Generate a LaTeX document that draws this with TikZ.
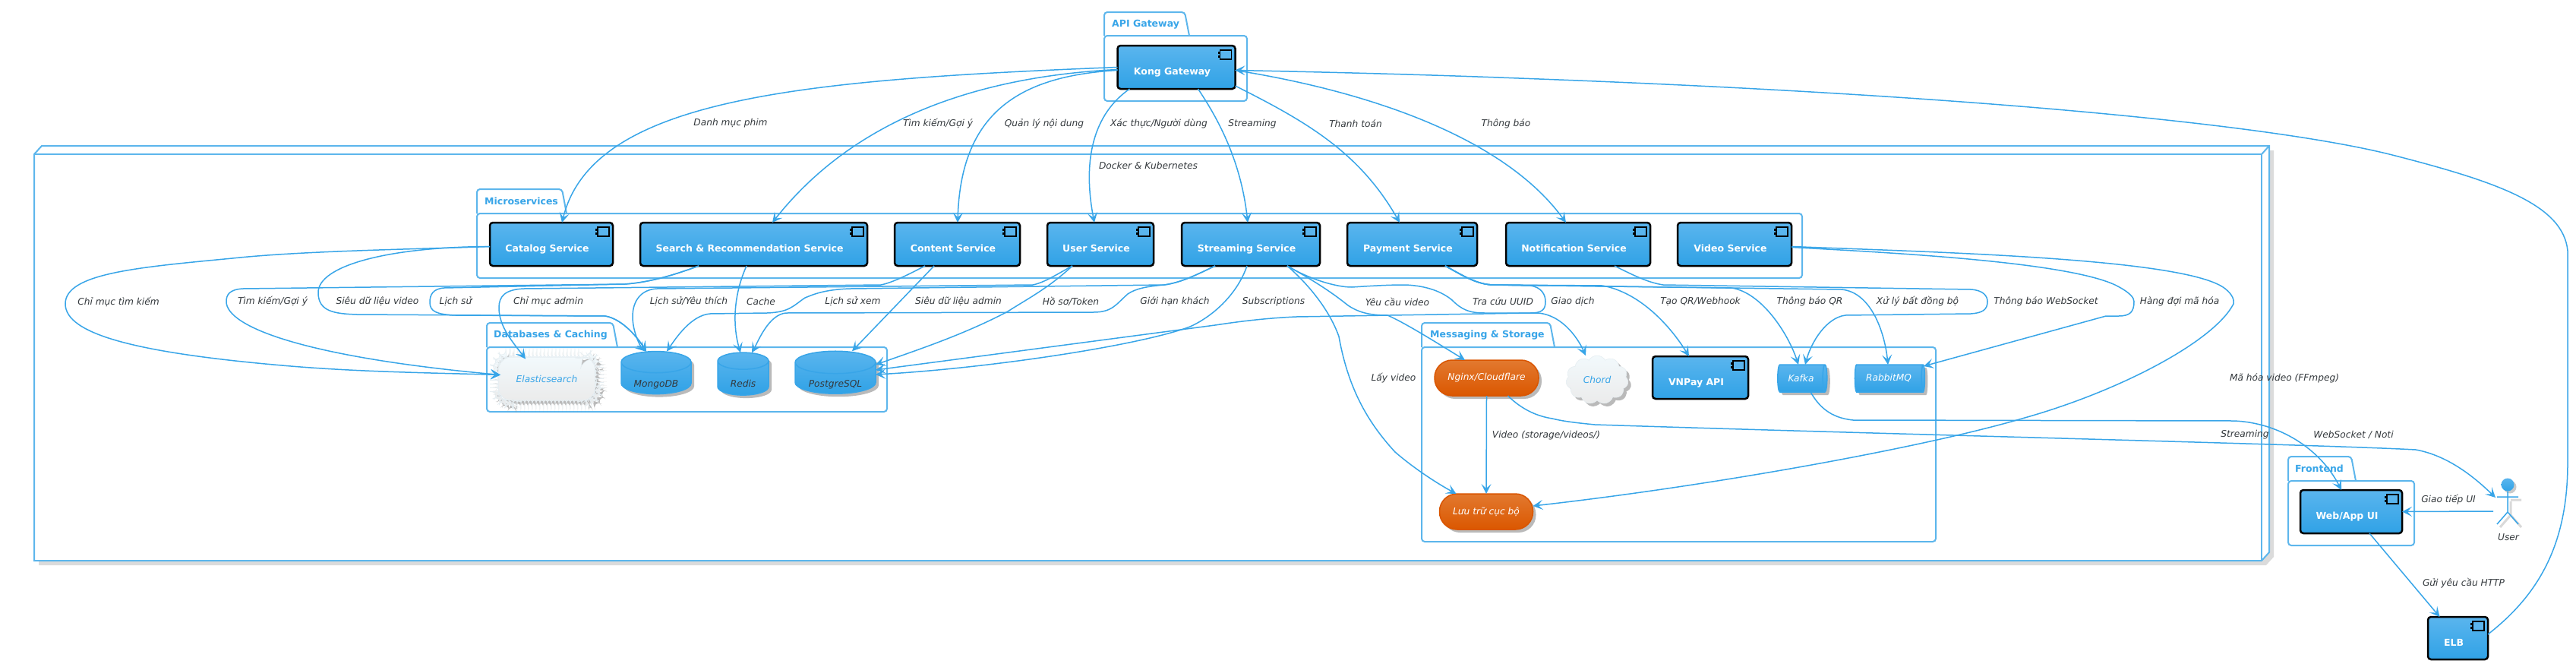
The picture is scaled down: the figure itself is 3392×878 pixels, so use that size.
\documentclass[tikz,border=0pt]{standalone}
\usepackage{fontspec}
\setmainfont{DejaVu Sans}
\usetikzlibrary{arrows.meta,shadows,shapes.geometric,shapes.symbols,decorations.pathmorphing}

\definecolor{flowblue}{HTML}{38A5E8}
\definecolor{pkgblue}{HTML}{5DB6EC}
\definecolor{labelgray}{HTML}{34393D}
\definecolor{orangeedge}{HTML}{D95500}
\definecolor{boxtop}{HTML}{5AB5EE}
\definecolor{boxbot}{HTML}{30A2E6}
\definecolor{orangetop}{HTML}{E2792F}
\definecolor{orangebot}{HTML}{DB5700}
\definecolor{cloudtop}{HTML}{F2F9FC}
\definecolor{cloudbot}{HTML}{EBEBEB}
\definecolor{cloudedge}{HTML}{E6EEF2}

\tikzset{
    >={Stealth[length=13pt,width=13pt,inset=6pt]},
    flow/.style={draw=flowblue,line width=1.5,->},
    pkgline/.style={draw=pkgblue,line width=2,rounded corners=4},
    pkgtitle/.style={font=\bfseries\fontsize{12.5}{15}\selectfont,text=flowblue,anchor=west,inner sep=0},
    edgelabel/.style={font=\itshape\fontsize{12.2}{15}\selectfont,text=labelgray,inner sep=0},
    softshadow/.style={drop shadow={shadow xshift=4pt,shadow yshift=-4pt,fill=black!45,opacity=.6}},
    svc/.style={draw=black,line width=2.5,rounded corners=4,top color=boxtop,bottom color=boxbot,outer sep=0,inner sep=0,
        text=white,font=\bfseries\fontsize{12.5}{15}\selectfont},
    dbcyl/.style={cylinder,shape border rotate=90,draw=flowblue,line width=1.5,outer sep=0,inner sep=0,
        top color=boxtop,bottom color=boxbot,softshadow,text=labelgray,font=\itshape\fontsize{12.2}{15}\selectfont},
    mqcyl/.style={cylinder,draw=flowblue,line width=1.5,outer sep=0,inner sep=0,
        top color=boxtop,bottom color=boxbot,softshadow,text=white,font=\itshape\fontsize{12.2}{15}\selectfont},
    capsule/.style={draw=orangeedge,line width=1.5,rounded corners=23,outer sep=0,inner sep=0,
        top color=orangetop,bottom color=orangebot,softshadow,text=white,font=\itshape\fontsize{12.2}{15}\selectfont},
    puffy/.style={draw=cloudedge,line width=.6,outer sep=0,inner sep=0,
        top color=cloudtop,bottom color=cloudbot,softshadow,text=flowblue,font=\itshape\fontsize{12.2}{15}\selectfont},
    actorline/.style={draw=flowblue,line width=1.5},
    actorshade/.style={draw=black!15,line width=3}
}

\newcommand{\svctext}[1]{\smash{\raisebox{-10pt}{#1}}\hspace*{11pt}}
\newcommand{\dbtext}[1]{\smash{\raisebox{-11pt}{#1}}}
\newcommand{\compicon}[1]{
    \draw[black,line width=1.5,fill=boxtop] ([xshift=-20,yshift=-6]#1.north east) rectangle ([xshift=-5,yshift=-18]#1.north east);
    \fill[black] ([xshift=-23,yshift=-8]#1.north east) rectangle ([xshift=-20,yshift=-11]#1.north east);
    \fill[black] ([xshift=-23,yshift=-13]#1.north east) rectangle ([xshift=-20,yshift=-16]#1.north east);
}
\newcommand{\pkgbox}[7]{
    \draw[pkgline] (#1,#5) -- (#1,#2) -- (#3,#2) -- (#4,#5);
    \draw[pkgline] (#1,#5) -- (#6,#5) -- (#6,#7) -- (#1,#7) -- cycle;
}

\begin{document}
\begin{tikzpicture}[x=1pt,y=-1pt]
    \useasboundingbox (0,0) rectangle (3392,878);

    \fill[black!14] (61,198) -- (2994,198) -- (2994,733) -- (2984,744) -- (51,744) -- cycle;
    \draw[pkgline,rounded corners=0,fill=white] (45,203) -- (55,192) -- (2988,192) -- (2988,727) -- (2978,738) -- (45,738) -- cycle;
    \draw[pkgline,rounded corners=0] (45,203) -- (2978,203) -- (2978,738);
    \draw[pkgline,rounded corners=0] (2978,203) -- (2988,192);

    \pkgbox{1454}{16}{1560}{1566}{47}{1642}{133}
    \node[pkgtitle] (titleapi) at (1464,32) {API Gateway};
    \pkgbox{628}{249}{740}{746}{281}{2373}{366}
    \node[pkgtitle] (titlemicro) at (638,265) {Microservices};
    \pkgbox{641}{425}{807}{813}{457}{1168}{542}
    \node[pkgtitle] (titledb) at (650,441) {Databases \& Caching};
    \pkgbox{1872}{425}{2041}{2047}{457}{2549}{713}
    \node[pkgtitle] (titlemsg) at (1883,441) {Messaging \& Storage};
    \pkgbox{3013}{601}{3096}{3102}{633}{3179}{718}
    \node[pkgtitle] (titlefront) at (3022,617) {Frontend};

    \node[svc,minimum width=155,minimum height=57] (kong) at (1549,88.5) {\svctext{Kong Gateway}};
    \node[svc,minimum width=162,minimum height=57] (catalog) at (726,321.5) {\svctext{Catalog Service}};
    \node[svc,minimum width=299,minimum height=57] (search) at (992.5,321.5) {\svctext{Search \& Recommendation Service}};
    \node[svc,minimum width=165,minimum height=57] (content) at (1260.5,321.5) {\svctext{Content Service}};
    \node[svc,minimum width=140,minimum height=57] (usersvc) at (1449,321.5) {\svctext{User Service}};
    \node[svc,minimum width=182,minimum height=57] (stream) at (1647,321.5) {\svctext{Streaming Service}};
    \node[svc,minimum width=171,minimum height=57] (payment) at (1859.5,321.5) {\svctext{Payment Service}};
    \node[svc,minimum width=190,minimum height=57] (notif) at (2078,321.5) {\svctext{Notification Service}};
    \node[svc,minimum width=150,minimum height=57] (videosvc) at (2284,321.5) {\svctext{Video Service}};
    \node[svc,minimum width=126,minimum height=56] (vnpay) at (2239,497) {\svctext{VNPay API}};
    \node[svc,minimum width=134,minimum height=57] (webapp) at (3096,673.5) {\svctext{Web/App UI}};
    \node[svc,minimum width=79,minimum height=56] (elb) at (3236.5,840) {\svctext{ELB}};

    \foreach \n in {kong,catalog,search,content,usersvc,stream,payment,notif,videosvc,vnpay,webapp,elb} {
        \compicon{\n}
    }

    \node[puffy,rectangle,rounded corners=14,decorate,decoration={bumps,mirror,segment length=10pt,amplitude=2.2pt},minimum width=122,minimum height=52] (elastic) at (720,498.5) {Elasticsearch};
    \node[dbcyl,aspect=.48,minimum width=92,minimum height=56] (mongo) at (864,498) {\dbtext{MongoDB}};
    \node[dbcyl,aspect=.66,minimum width=67,minimum height=56] (redis) at (978.5,498) {\dbtext{Redis}};
    \node[dbcyl,aspect=.42,minimum width=106,minimum height=56] (postgres) at (1100,498) {\dbtext{PostgreSQL}};

    \node[capsule,minimum width=137,minimum height=47] (nginx) at (1957.5,497.5) {Nginx/Cloudflare};
    \node[capsule,minimum width=123,minimum height=47] (localstore) at (1957,673.5) {Lưu trữ cục bộ};
    \node[puffy,cloud,cloud puffs=11,cloud puff arc=120,aspect=1.25,minimum width=82,minimum height=64] (chord) at (2103,500) {Chord};
    \node[mqcyl,aspect=.6,minimum width=36,minimum height=65] (kafka) at (2371.5,498) {Kafka};
    \node[mqcyl,aspect=.4,minimum width=36,minimum height=92] (rabbit) at (2487,498) {RabbitMQ};

    \draw[actorshade] (3306,658) -- (3320,658) (3306,660) -- (3306,678) -- (3292,694) (3306,678) -- (3320,694);
    \node[circle,fill=black!35,minimum size=17,inner sep=0,opacity=.6] (usershade) at (3305,641) {};
    \node[circle,top color=boxtop,bottom color=boxbot,minimum size=17,inner sep=0,outer sep=0] (userhead) at (3302,638) {};
    \coordinate (userhip) at (3302,674);
    \coordinate (usergrip) at (3283,673);
    \coordinate (useraim) at (3286,655);
    \draw[actorline] (userhead.south) -- (userhip) -- (3288,690) (userhip) -- (3316,690) (3288,654) -- (3316,654);
    \node[edgelabel] (username) at (3303,707) {User};

    \draw[flow] (kong.west) .. controls (1050,105) and (780,130) .. ([xshift=14]catalog.north);
    \draw[flow] ([yshift=-3]kong.west) .. controls (1300,100) and (1130,150) .. ([xshift=24.5]search.north);
    \draw[flow] ([yshift=-4]kong.west) .. controls (1340,100) and (1265,150) .. ([xshift=.5]content.north);
    \draw[flow] ([xshift=16]kong.south west) .. controls (1440,150) and (1425,210) .. ([xshift=-8]usersvc.north);
    \draw[flow] ([xshift=106]kong.south west) .. controls (1610,165) and (1635,220) .. ([xshift=-4]stream.north);
    \draw[flow] ([yshift=4]kong.south east) .. controls (1720,160) and (1790,200) .. ([xshift=-16.5]payment.north);
    \draw[flow] ([yshift=-4]kong.east) .. controls (1800,120) and (1980,180) .. ([xshift=-16]notif.north);
    \draw[flow] ([yshift=5]elb.east) .. controls (3340,785) and (3381,720) .. (3381,610) -- (3381,330) .. controls (3375,270) and (3290,240) .. (3154,205) .. controls (3000,165) and (2600,125) .. (2000,103) .. controls (1870,98) and (1750,95) .. ([yshift=-4]kong.east);

    \draw[flow] ([yshift=-3]catalog.west) .. controls (550,328) and (400,330) .. (306,340) .. controls (180,352) and (86,360) .. (86,400) .. controls (86,440) and (180,465) .. (383,482) .. controls (480,490) and (580,491) .. ([yshift=5]elastic.west);
    \draw[flow] ([yshift=-3]catalog.west) .. controls (510,325) and (419,350) .. (419,385) .. controls (419,410) and (440,413) .. (470,414) -- (797,416) .. controls (820,420) and (840,445) .. ([xshift=-13]mongo.north);
    \draw[flow] ([xshift=77]search.south west) .. controls (880,365) and (850,372) .. (823,374) -- (320,380) .. controls (302,381) and (298,388) .. (298,397) .. controls (298,430) and (400,470) .. ([yshift=5]elastic.west);
    \draw[flow] ([xshift=77]search.south west) .. controls (880,365) and (850,372) .. (823,374) -- (585,379) .. controls (570,380) and (566,388) .. (566,398) .. controls (566,410) and (575,414) .. (600,415) -- (797,416) .. controls (820,420) and (840,445) .. ([xshift=-13]mongo.north);
    \draw[flow] ([xshift=-9.5]search.south) .. controls (965,390) and (965,430) .. ([xshift=-3.5]redis.north);
    \draw[flow] ([xshift=40]content.south west) .. controls (1195,362) and (1175,372) .. (1160,375) -- (690,380) .. controls (665,381) and (657,390) .. (657,405) .. controls (657,430) and (675,450) .. ([xshift=-28]elastic.north);
    \draw[flow] ([xshift=52]content.south west) -- ([xshift=22]postgres.north);
    \draw[flow] ([xshift=33]usersvc.south west) .. controls (1390,362) and (1375,372) .. (1360,375) -- (865,380) .. controls (845,381) and (833,395) .. (833,417) .. controls (833,435) and (842,455) .. ([xshift=-14]mongo.north);
    \draw[flow] ([xshift=33]usersvc.south west) .. controls (1380,380) and (1350,395) .. (1327,410) .. controls (1270,440) and (1210,460) .. ([yshift=18]postgres.east);
    \draw[flow] ([xshift=44]stream.south west) .. controls (1575,362) and (1555,372) .. (1533,375) -- (1120,380) .. controls (1085,381) and (1070,388) .. (1060,392) .. controls (1045,402) and (1040,411) .. (1010,412) -- (935,413) .. controls (910,415) and (890,445) .. ([xshift=14]mongo.north);
    \draw[flow] ([xshift=44]stream.south west) .. controls (1575,362) and (1555,372) .. (1533,375) .. controls (1510,377) and (1495,380) .. (1485,387) .. controls (1470,400) and (1465,411) .. (1440,411) -- (1035,412) .. controls (1012,414) and (998,450) .. ([xshift=11.5]redis.north);
    \draw[flow] ([xshift=-5]stream.south) .. controls (1630,385) and (1600,415) .. (1567,430) .. controls (1500,455) and (1300,485) .. ([yshift=5]postgres.east);
    \draw[flow] ([xshift=139]stream.south west) .. controls (1735,385) and (1755,420) .. (1763,443) .. controls (1775,510) and (1800,555) .. (1837,595) .. controls (1860,615) and (1890,635) .. ([xshift=22]localstore.north west);
    \draw[flow] ([xshift=139]stream.south west) .. controls (1740,375) and (1760,390) .. (1775,402) .. controls (1790,412) and (1805,415) .. (1827,415) .. controls (1850,425) and (1890,450) .. ([xshift=40]nginx.north west);
    \draw[flow] ([xshift=139]stream.south west) .. controls (1725,368) and (1760,378) .. (1780,378) .. controls (1810,376) and (1830,375) .. (1850,375) .. controls (1880,376) and (1900,385) .. (1912,395) .. controls (1925,408) and (1935,412) .. (1955,412) -- (2025,412) .. controls (2060,415) and (2080,450) .. ([xshift=-15]chord.north);
    \draw[flow] ([xshift=129]payment.south west) .. controls (1925,362) and (1945,375) .. (1967,375) -- (2015,376) .. controls (2030,378) and (2035,388) .. (2035,397) .. controls (2035,408) and (2030,412) .. (2015,412) -- (1707,417) .. controls (1660,419) and (1620,425) .. (1600,428) -- ([yshift=11]postgres.east);
    \draw[flow] ([xshift=129]payment.south west) .. controls (1925,362) and (1945,375) .. (1967,375) -- (2110,376) .. controls (2160,385) and (2200,430) .. ([xshift=-15]vnpay.north);
    \draw[flow] ([xshift=129]payment.south west) .. controls (1925,362) and (1945,375) .. (1967,375) -- (2280,379) .. controls (2320,385) and (2355,440) .. ([xshift=-3.5]kafka.north);
    \draw[flow] ([xshift=129]payment.south west) .. controls (1925,362) and (1945,375) .. (1967,375) -- (2425,381) .. controls (2465,385) and (2482,440) .. ([xshift=-1]rabbit.north);
    \draw[flow] ([xshift=143]notif.south west) .. controls (2150,362) and (2170,372) .. (2190,375) -- (2595,381) .. controls (2612,382) and (2617,390) .. (2617,397) .. controls (2617,408) and (2610,412) .. (2595,413) -- (2430,415) .. controls (2405,418) and (2385,450) .. ([xshift=5.5]kafka.north);
    \draw[flow] ([yshift=-4]videosvc.east) .. controls (2500,333) and (2720,345) .. (2785,375) .. controls (2805,385) and (2810,392) .. (2810,397) .. controls (2810,410) and (2805,416) .. (2790,416) -- (2773,416) -- ([xshift=46,yshift=16]rabbit.center);
    \draw[flow] ([yshift=-3]videosvc.east) .. controls (2550,332) and (2880,340) .. (2930,380) .. controls (2940,388) and (2942,395) .. (2941,400) .. controls (2915,450) and (2790,515) .. (2666,550) .. controls (2530,590) and (2250,640) .. ([yshift=7.5]localstore.east);
    \draw[flow] (nginx.south) -- (localstore.north);
    \draw[flow] ([xshift=28]nginx.south) .. controls (2005,540) and (2025,548) .. (2044,551) .. controls (2060,555) and (2080,557) .. (2100,559) .. controls (2500,572) and (3050,585) .. (3181,592) .. controls (3225,600) and (3260,630) .. (useraim);
    \draw[flow] ([xshift=12.5,yshift=-18]kafka.center) .. controls (2395,535) and (2410,550) .. (2440,553) -- (2941,554) .. controls (3000,556) and (3055,590) .. ([xshift=-13]webapp.north);
    \draw[flow] (usergrip) -- (webapp.east);
    \draw[flow] ([xshift=91]webapp.south west) -- ([xshift=-24]elb.north);

    \node[edgelabel] (lbcatalog) at (962,162) {Danh mục phim};
    \node[edgelabel] (lbsearch) at (1235,163) {Tìm kiếm/Gợi ý};
    \node[edgelabel] (lbcontent) at (1375,163) {Quản lý nội dung};
    \node[edgelabel] (lbauth) at (1526,163) {Xác thực/Người dùng};
    \node[edgelabel] (lbstream) at (1649,163) {Streaming};
    \node[edgelabel] (lbpay) at (1785,163) {Thanh toán};
    \node[edgelabel] (lbnotif) at (1983,163) {Thông báo};
    \node[edgelabel] (lbdocker) at (1512,218) {Docker \& Kubernetes};

    \node[edgelabel] (lbindex) at (156,397) {Chỉ mục tìm kiếm};
    \node[edgelabel] (lbfind) at (359,397) {Tìm kiếm/Gợi ý};
    \node[edgelabel] (lbvideometa) at (497,397) {Siêu dữ liệu video};
    \node[edgelabel] (lbhistory) at (600,397) {Lịch sử};
    \node[edgelabel] (lbadminidx) at (722,397) {Chỉ mục admin};
    \node[edgelabel] (lbfavs) at (907,397) {Lịch sử/Yêu thích};
    \node[edgelabel] (lbcache) at (1002,397) {Cache};
    \node[edgelabel] (lbwatch) at (1123,397) {Lịch sử xem};
    \node[edgelabel] (lbadminmeta) at (1262,397) {Siêu dữ liệu admin};
    \node[edgelabel] (lbprofile) at (1410,397) {Hồ sơ/Token};
    \node[edgelabel] (lbguest) at (1547,397) {Giới hạn khách};
    \node[edgelabel] (lbsubs) at (1677,397) {Subscriptions};
    \node[edgelabel] (lbrequest) at (1840,397) {Yêu cầu video};
    \node[edgelabel] (lbuuid) at (1979,397) {Tra cứu UUID};
    \node[edgelabel] (lbtrans) at (2071,397) {Giao dịch};
    \node[edgelabel] (lbqr) at (2239,397) {Tạo QR/Webhook};
    \node[edgelabel] (lbqrnote) at (2383,397) {Thông báo QR};
    \node[edgelabel] (lbasync) at (2525,397) {Xử lý bất đồng bộ};
    \node[edgelabel] (lbsocket) at (2694,397) {Thông báo WebSocket};
    \node[edgelabel] (lbqueue) at (2870,397) {Hàng đợi mã hóa};

    \node[edgelabel] (lbfetch) at (1835,498) {Lấy video};
    \node[edgelabel] (lbencode) at (3008,498) {Mã hóa video (FFmpeg)};
    \node[edgelabel] (lbstorage) at (2036,573) {Video (storage/videos/)};
    \node[edgelabel] (lbstreaming) at (2956,572) {Streaming};
    \node[edgelabel] (lbnoti) at (3099,572) {WebSocket / Noti};
    \node[edgelabel] (lbui) at (3224,658) {Giao tiếp UI};
    \node[edgelabel] (lbhttp) at (3244,768) {Gửi yêu cầu HTTP};
\end{tikzpicture}
\end{document}
